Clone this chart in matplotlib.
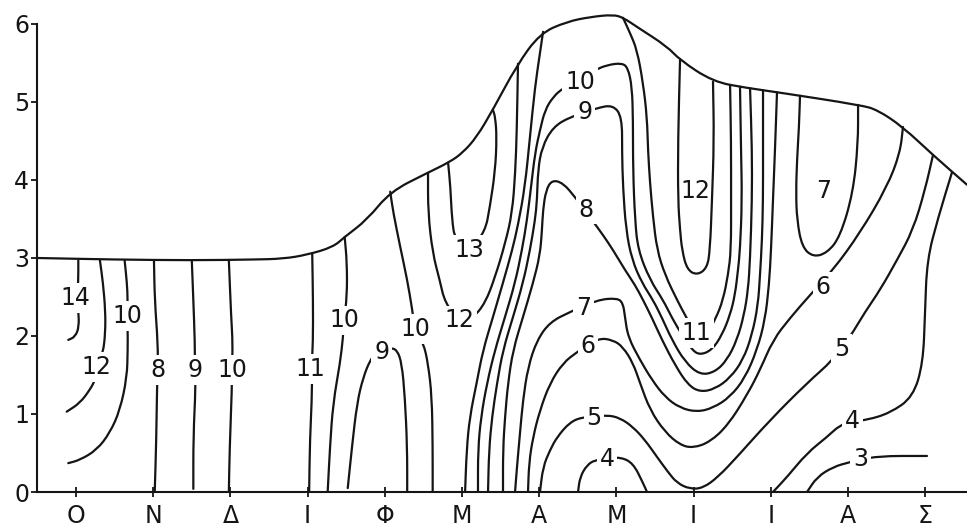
import matplotlib
matplotlib.use("Agg")
import matplotlib.pyplot as plt
from matplotlib.path import Path
from matplotlib.patches import PathPatch

plt.rcParams["font.family"] = ["DejaVu Sans"]

# Month initials (Greek), October to September
MONTHS = ["Ο", "Ν", "Δ", "Ι", "Φ", "Μ", "Α", "Μ", "Ι", "Ι", "Α", "Σ"]
DEPTHS = [0, 1, 2, 3, 4, 5, 6]

# Water level through the year (m)
LEVEL_X = [-0.505, 0.5, 1.5, 2.3, 2.68, 2.99, 3.33, 3.48, 3.77, 4.07, 4.55, 4.84, 5.01, 5.19, 5.40,
           5.71, 6.01, 6.36, 6.66, 6.96, 7.09, 7.27, 7.66, 7.82, 8.25, 8.69, 9.12, 10.16, 10.38,
           10.71, 11.10, 11.54]
LEVEL_Y = [3.00, 2.98, 2.97, 2.98, 2.99, 3.04, 3.14, 3.27, 3.49, 3.85, 4.09, 4.23, 4.35, 4.55, 4.90,
           5.47, 5.88, 6.03, 6.09, 6.12, 6.08, 5.96, 5.71, 5.54, 5.26, 5.18, 5.12, 4.96, 4.90,
           4.68, 4.32, 3.94]

# Isolines: month position (x) and depth in m (y)
ISO14_X = [0.03, 0.03, 0.01, 0.03, 0.04, -0.01, -0.10]
ISO14_Y = [2.97, 2.68, 2.50, 2.33, 2.12, 1.99, 1.95]

ISO12A_X = [0.31, 0.35, 0.38, 0.38, 0.35, 0.27, 0.25, 0.18, 0.05, -0.12]
ISO12A_Y = [2.97, 2.68, 2.33, 2.04, 1.78, 1.60, 1.44, 1.31, 1.14, 1.03]

ISO10A_X = [0.63, 0.66, 0.67, 0.66, 0.67, 0.67, 0.66, 0.57, 0.44, 0.27, 0.05, -0.10]
ISO10A_Y = [2.97, 2.68, 2.46, 2.26, 2.08, 1.82, 1.47, 1.05, 0.76, 0.54, 0.41, 0.37]

ISO8A_X = [1.01, 1.02, 1.06, 1.06, 1.05, 1.04, 1.02]
ISO8A_Y = [2.97, 2.46, 1.91, 1.56, 1.37, 0.67, 0.0]

ISO9A_X = [1.50, 1.52, 1.54, 1.54, 1.55, 1.52, 1.52]
ISO9A_Y = [2.97, 2.46, 1.91, 1.56, 1.35, 0.71, 0.04]

ISO10B_X = [1.98, 2.01, 2.03, 2.02, 2.02, 1.99, 1.98]
ISO10B_Y = [2.97, 2.24, 1.91, 1.56, 1.35, 0.54, 0.0]

ISO11A_X = [3.06, 3.07, 3.07, 3.05, 3.06, 3.03, 3.02]
ISO11A_Y = [3.05, 2.46, 1.91, 1.58, 1.31, 0.67, 0.0]

ISO10C_X = [3.48, 3.51, 3.51, 3.47, 3.46, 3.42, 3.33, 3.29, 3.26]
ISO10C_Y = [3.27, 2.94, 2.50, 2.20, 1.99, 1.65, 1.14, 0.58, 0.0]

ISO9B_X = [3.52, 3.575, 3.64, 3.72, 3.81, 3.87, 3.96, 4.07, 4.16, 4.22, 4.26, 4.29, 4.29]
ISO9B_Y = [0.05, 0.58, 1.14, 1.47, 1.69, 1.76, 1.79, 1.85, 1.82, 1.65, 1.22, 0.58, 0.0]

ISO10D_X = [4.07, 4.11, 4.20, 4.29, 4.35, 4.39, 4.50, 4.56, 4.61, 4.62, 4.62]
ISO10D_Y = [3.85, 3.58, 3.14, 2.72, 2.37, 2.09, 1.91, 1.65, 1.22, 0.58, 0.0]

ISO12B_X = [4.56, 4.56, 4.62, 4.71, 4.78, 4.97, 5.14, 5.30, 5.43, 5.56, 5.65, 5.69, 5.71, 5.725]
ISO12B_Y = [4.09, 3.58, 3.06, 2.72, 2.42, 2.20, 2.23, 2.42, 2.76, 3.19, 3.58, 4.09, 4.64, 5.49]

ISO13_X = [4.82, 4.85, 4.87, 4.91, 5.10, 5.30, 5.36, 5.43, 5.45, 5.43, 5.40]
ISO13_Y = [4.22, 3.91, 3.49, 3.23, 3.10, 3.34, 3.65, 4.12, 4.55, 4.81, 4.90]

ISO11B_X = [6.05, 6.01, 5.945, 5.88, 5.815, 5.725, 5.65, 5.53, 5.40, 5.27, 5.19, 5.10, 5.06, 5.04]
ISO11B_Y = [5.90, 5.63, 5.19, 4.55, 3.91, 3.42, 3.10, 2.68, 2.24, 1.81, 1.40, 0.96, 0.54, 0.0]

ISO10E_X = [5.207, 5.207, 5.246, 5.324, 5.427, 5.557, 5.687, 5.777, 5.842, 5.894,
            5.946, 6.010, 6.075, 6.179, 6.308, 6.723, 6.878, 7.073, 7.150, 7.202,
            7.215, 7.215, 7.241, 7.280, 7.435, 7.604, 7.720, 7.850, 7.979, 8.083,
            8.238, 8.368, 8.472, 8.536, 8.575, 8.601, 8.627, 8.614, 8.601]
ISO10E_Y = [0.0, 0.538, 0.962, 1.397, 1.821, 2.244, 2.679, 3.103, 3.487, 3.910,
            4.346, 4.641, 4.897, 5.064, 5.179, 5.410, 5.474, 5.500, 5.436, 5.192,
            4.769, 4.128, 3.487, 3.103, 2.718, 2.462, 2.231, 2.013, 1.821, 1.756,
            1.821, 2.013, 2.269, 2.526, 2.846, 3.103, 3.744, 4.385, 5.195]

ISO9C_X = [5.337, 5.350, 5.389, 5.454, 5.531, 5.661, 5.790, 5.881, 5.946, 5.972,
           5.984, 6.036, 6.179, 6.399, 6.749, 6.956, 7.073, 7.073, 7.085, 7.124,
           7.202, 7.332, 7.474, 7.591, 7.720, 7.889, 8.083, 8.277, 8.433, 8.562,
           8.653, 8.705, 8.731, 8.756, 8.756, 8.731]
ISO9C_Y = [0.0, 0.538, 0.962, 1.397, 1.821, 2.244, 2.679, 3.103, 3.487, 3.744,
           4.128, 4.423, 4.679, 4.808, 4.923, 4.962, 4.808, 4.346, 3.910, 3.359,
           2.974, 2.679, 2.462, 2.231, 1.949, 1.667, 1.500, 1.538, 1.692, 1.949,
           2.269, 2.590, 2.974, 3.744, 4.385, 5.175]

ISO8B_X = [5.531, 5.531, 5.557, 5.596, 5.661, 5.790, 5.920, 6.010, 6.036, 6.049,
           6.088, 6.166, 6.308, 6.464, 6.684, 6.826, 6.956, 7.111, 7.241, 7.345,
           7.461, 7.591, 7.759, 7.927, 8.083, 8.277, 8.472, 8.640, 8.756, 8.834,
           8.860, 8.886, 8.899, 8.899, 8.899]
ISO8B_Y = [0.0, 0.538, 0.962, 1.397, 1.821, 2.244, 2.679, 3.038, 3.359, 3.615,
           3.872, 4.000, 3.962, 3.782, 3.487, 3.295, 3.103, 2.846, 2.654, 2.462,
           2.231, 1.949, 1.628, 1.372, 1.282, 1.321, 1.462, 1.692, 2.013, 2.397,
           2.782, 3.231, 3.744, 4.385, 5.150]

ISO7B_X = [5.687, 5.712, 5.751, 5.790, 5.855, 5.972, 6.140, 6.399, 6.749, 7.008,
           7.085, 7.111, 7.150, 7.306, 7.461, 7.629, 7.824, 8.044, 8.251, 8.472,
           8.666, 8.821, 8.925, 8.977, 9.003, 9.028, 9.054, 9.080]
ISO7B_Y = [0.0, 0.321, 0.756, 1.179, 1.603, 1.949, 2.179, 2.308, 2.462, 2.487,
           2.423, 2.244, 1.987, 1.692, 1.436, 1.218, 1.077, 1.026, 1.077, 1.218,
           1.462, 1.821, 2.205, 2.654, 3.103, 3.744, 4.385, 5.125]

ISO6B_X = [5.855, 5.868, 5.920, 6.010, 6.140, 6.308, 6.490, 6.762, 6.956, 7.085,
           7.215, 7.306, 7.435, 7.629, 7.824, 7.992, 8.212, 8.446, 8.692, 8.860,
           9.028, 9.249, 9.508, 9.806, 10.155, 10.505, 10.674, 10.712]
ISO6B_Y = [0.0, 0.372, 0.705, 1.051, 1.397, 1.654, 1.795, 1.974, 1.949, 1.859,
           1.654, 1.397, 1.051, 0.769, 0.603, 0.564, 0.641, 0.859, 1.244, 1.564,
           1.949, 2.231, 2.526, 2.846, 3.321, 3.910, 4.346, 4.680]

ISO5B_X = [6.010, 6.049, 6.140, 6.231, 6.399, 6.567, 6.878, 7.047, 7.215, 7.370,
           7.526, 7.668, 7.785, 7.953, 8.122, 8.316, 8.562, 8.990, 9.469, 9.806,
           10.026, 10.220, 10.415, 10.635, 10.842, 10.997, 11.101]
ISO5B_Y = [0.0, 0.321, 0.538, 0.705, 0.897, 0.962, 0.987, 0.949, 0.833, 0.667,
           0.449, 0.256, 0.115, 0.038, 0.051, 0.192, 0.449, 0.923, 1.397, 1.692,
           1.987, 2.308, 2.590, 2.974, 3.359, 3.872, 4.321]

ISO4A_X = [6.503, 6.528, 6.619, 6.723, 6.878, 7.047, 7.215, 7.345, 7.396]
ISO4A_Y = [0.0, 0.192, 0.346, 0.410, 0.423, 0.449, 0.372, 0.115, 0.0]

ISO4B_X = [9.028, 9.210, 9.469, 9.728, 9.896, 10.065, 10.246, 10.544, 10.842, 10.972,
           10.997, 11.023, 11.166, 11.347]
ISO4B_Y = [0.0, 0.192, 0.500, 0.705, 0.859, 0.910, 0.923, 1.013, 1.218, 1.654,
           2.295, 2.974, 3.513, 4.100]

ISO3_X = [9.469, 9.598, 9.806, 10.026, 10.376, 11.023]
ISO3_Y = [0.0, 0.192, 0.321, 0.385, 0.462, 0.462]

ISO7C_X = [9.378, 9.365, 9.339, 9.326, 9.339, 9.404, 9.547, 9.728, 9.896, 10.065, 10.130, 10.130]
ISO7C_Y = [5.080, 4.679, 4.256, 3.833, 3.487, 3.141, 3.013, 3.064, 3.269, 3.833, 4.474, 4.962]

ISO12C_X = [7.824, 7.798, 7.798, 7.824, 7.850, 7.915, 8.044, 8.174, 8.212, 8.238, 8.264, 8.251]
ISO12C_Y = [5.54, 4.51, 3.74, 3.36, 3.10, 2.85, 2.78, 2.87, 3.10, 3.74, 4.51, 5.26]

ISO11C_X = [7.085, 7.176, 7.267, 7.345, 7.396, 7.409, 7.435, 7.474, 7.526, 7.630,
            7.785, 7.889, 7.979, 8.083, 8.187, 8.290, 8.381, 8.446, 8.485, 8.485,
            8.485, 8.472]
ISO11C_Y = [6.08, 5.885, 5.667, 5.244, 4.808, 4.385, 3.962, 3.526, 3.103, 2.782,
            2.462, 2.269, 2.103, 1.987, 2.051, 2.231, 2.462, 2.782, 3.103, 3.744,
            4.513, 5.220]

ISOLINES = [
    (14, ISO14_X, ISO14_Y), (12, ISO12A_X, ISO12A_Y), (10, ISO10A_X, ISO10A_Y),
    (8, ISO8A_X, ISO8A_Y), (9, ISO9A_X, ISO9A_Y), (10, ISO10B_X, ISO10B_Y),
    (11, ISO11A_X, ISO11A_Y), (10, ISO10C_X, ISO10C_Y), (9, ISO9B_X, ISO9B_Y),
    (10, ISO10D_X, ISO10D_Y), (12, ISO12B_X, ISO12B_Y), (13, ISO13_X, ISO13_Y),
    (11, ISO11B_X, ISO11B_Y), (10, ISO10E_X, ISO10E_Y), (9, ISO9C_X, ISO9C_Y),
    (8, ISO8B_X, ISO8B_Y), (7, ISO7B_X, ISO7B_Y), (6, ISO6B_X, ISO6B_Y),
    (5, ISO5B_X, ISO5B_Y), (4, ISO4A_X, ISO4A_Y), (4, ISO4B_X, ISO4B_Y),
    (3, ISO3_X, ISO3_Y), (7, ISO7C_X, ISO7C_Y), (12, ISO12C_X, ISO12C_Y),
    (11, ISO11C_X, ISO11C_Y),
]

# Value labels: (value, month position, depth, sits on the line)
LABELS = [
    (14, -0.01, 2.49, True), (12, 0.27, 1.60, True), (10, 0.66, 2.26, True),
    (8, 1.06, 1.56, True), (9, 1.54, 1.56, True), (10, 2.02, 1.56, True),
    (11, 3.04, 1.58, True), (10, 3.47, 2.20, True), (9, 3.96, 1.79, True),
    (10, 4.39, 2.09, True), (12, 4.97, 2.20, True), (13, 5.10, 3.10, True),
    (10, 6.53, 5.26, True), (9, 6.59, 4.87, True), (8, 6.61, 3.62, True),
    (7, 6.57, 2.36, True), (6, 6.63, 1.87, True), (5, 6.71, 0.95, True),
    (4, 6.88, 0.42, True), (12, 8.02, 3.86, False), (11, 8.04, 2.04, True),
    (7, 9.68, 3.86, False), (6, 9.676, 2.63, True), (5, 9.92, 1.83, True),
    (4, 10.06, 0.91, True), (3, 10.16, 0.42, True),
]


def smooth_path(xs, ys):
    """Quadratic Bezier path through the midpoints of the polyline."""
    pts = list(zip(xs, ys))
    verts = [pts[0]]
    codes = [Path.MOVETO]
    if len(pts) > 2:
        mid = lambda a, b: ((a[0] + b[0]) / 2.0, (a[1] + b[1]) / 2.0)
        verts.append(mid(pts[0], pts[1]))
        codes.append(Path.LINETO)
        for i in range(1, len(pts) - 1):
            verts += [pts[i], mid(pts[i], pts[i + 1])]
            codes += [Path.CURVE3, Path.CURVE3]
    verts.append(pts[-1])
    codes.append(Path.LINETO)
    return Path(verts, codes)


INK = "#151515"
LW = 1.6
FS = 17

fig = plt.figure(figsize=(9.67, 5.31), dpi=100, facecolor="white")
ax = fig.add_axes([37 / 967, 39 / 531, 930 / 967, 484 / 531])
ax.set_facecolor("white")

# water level
ax.add_patch(PathPatch(smooth_path(LEVEL_X, LEVEL_Y), fill=False, edgecolor=INK,
                       lw=LW, capstyle="round", joinstyle="round", zorder=2))

for value, xs, ys in ISOLINES:
    ax.add_patch(PathPatch(smooth_path(xs, ys), fill=False, edgecolor=INK,
                           lw=LW, capstyle="round", joinstyle="round", zorder=2))

for value, x, y, on_line in LABELS:
    kw = {}
    if on_line:
        kw["bbox"] = dict(boxstyle="square,pad=0.12", facecolor="white", edgecolor="none")
    ax.text(x, y, str(value), ha="center", va="center", fontsize=FS, color=INK,
            zorder=4, **kw)

ax.set_xlim(-0.505, 11.541)
ax.set_ylim(0, 6.205)

ax.set_xticks(range(len(MONTHS)))
ax.set_xticklabels(MONTHS)
ax.set_yticks(DEPTHS)
ax.set_yticklabels([str(d) for d in DEPTHS])

for side in ("top", "right"):
    ax.spines[side].set_visible(False)
for side in ("left", "bottom"):
    ax.spines[side].set_linewidth(1.5)
    ax.spines[side].set_color(INK)
ax.spines["left"].set_bounds(0, 6)

ax.tick_params(axis="y", direction="out", length=4, width=1.3, pad=1.5,
               labelsize=FS, colors=INK)
ax.tick_params(axis="x", direction="inout", length=7, width=1.3, pad=5,
               labelsize=FS, colors=INK)

fig.savefig("out.png", dpi=100, facecolor="white")
